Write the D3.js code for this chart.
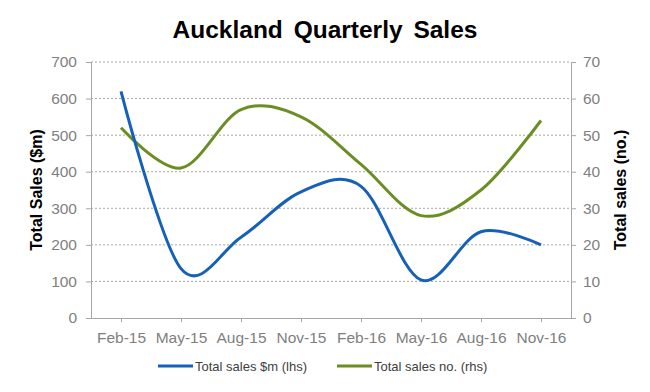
<!DOCTYPE html>
<html>
<head>
<meta charset="utf-8">
<script src="https://cdn.jsdelivr.net/npm/d3@7"></script>
<style>
  body { margin: 0; background: #fff; }
  text { font-family: "Liberation Sans", Arial, sans-serif; }
</style>
</head>
<body>
<div id="chart"></div>
<script>
// chart data
var quarters = ["Feb-15", "May-15", "Aug-15", "Nov-15", "Feb-16", "May-16", "Aug-16", "Nov-16"];
var salesValue = [620, 135, 221, 345, 360, 104, 236, 200];   // $m, left axis
var salesCount = [52, 41, 57, 55, 42, 28, 35, 54];            // no., right axis
var leftTicks = [0, 100, 200, 300, 400, 500, 600, 700];
var rightTicks = [0, 10, 20, 30, 40, 50, 60, 70];

// sizes
var margin = {top: 62, bottom: 74, left: 91, right: 79},
  width = 650 - margin.left - margin.right,
  height = 392 - margin.top - margin.bottom;

var svg = d3.select("#chart")
  .append("svg")
    .attr("width", 650)
    .attr("height", 392);

var chart = svg.append("g")
  .attr("transform", "translate(" + margin.left + "," + margin.top + ")");

// title
svg.append("text")
  .attr("x", 325)
  .attr("y", 38)
  .attr("text-anchor", "middle")
  .style("font-size", "24.5px")
  .style("font-weight", "bold")
  .style("word-spacing", "4px")
  .text("Auckland Quarterly Sales");

// scales
var x = d3.scalePoint()
  .domain(quarters)
  .range([0, width])
  .padding(0.5);

var yLeft = d3.scaleLinear().domain([0, 700]).range([height, 0]);
var yRight = d3.scaleLinear().domain([0, 70]).range([height, 0]);

// grid lines
chart.selectAll(".grid")
  .data(leftTicks.slice(1))
  .enter().append("line")
    .attr("class", "grid")
    .attr("x1", 0)
    .attr("x2", width)
    .attr("y1", function(d) { return yLeft(d); })
    .attr("y2", function(d) { return yLeft(d); })
    .style("stroke", "#a6a6a6")
    .style("stroke-width", 1)
    .style("stroke-dasharray", "2,2");

// axes
var axisColor = "#a6a6a6";
var labelColor = "#7f7f7f";

var leftAxis = chart.append("g")
  .call(d3.axisLeft(yLeft).tickValues(leftTicks).tickSize(5).tickPadding(9));

var rightAxis = chart.append("g")
  .attr("transform", "translate(" + width + ",0)")
  .call(d3.axisRight(yRight).tickValues(rightTicks).tickSize(5).tickPadding(7));

var bottomAxis = chart.append("g")
  .attr("transform", "translate(0," + height + ")")
  .call(d3.axisBottom(x).tickSize(4).tickPadding(10).tickSizeOuter(0));

[leftAxis, rightAxis, bottomAxis].forEach(function(a) {
  a.select(".domain").style("stroke", axisColor);
  a.selectAll(".tick line").style("stroke", axisColor);
  a.selectAll(".tick text")
    .style("fill", labelColor)
    .style("font-size", "15.5px")
    .style("font-family", "Liberation Sans, Arial, sans-serif");
});

// axis titles
svg.append("text")
  .attr("transform", "translate(42," + (margin.top + height / 2) + ") rotate(-90)")
  .attr("text-anchor", "middle")
  .style("font-size", "16px")
  .style("font-weight", "bold")
  .text("Total Sales ($m)");

svg.append("text")
  .attr("transform", "translate(626," + (margin.top + height / 2) + ") rotate(-90)")
  .attr("text-anchor", "middle")
  .style("font-size", "16px")
  .style("font-weight", "bold")
  .text("Total sales (no.)");

// lines
var blue = "#1660b8";
var green = "#6b8e23";

var lineLeft = d3.line()
  .x(function(d, i) { return x(quarters[i]); })
  .y(function(d) { return yLeft(d); })
  .curve(d3.curveCardinal.tension(0));

var lineRight = d3.line()
  .x(function(d, i) { return x(quarters[i]); })
  .y(function(d) { return yRight(d); })
  .curve(d3.curveCardinal.tension(0));

chart.append("path")
  .datum(salesCount)
  .attr("d", lineRight)
  .style("fill", "none")
  .style("stroke", green)
  .style("stroke-width", 3);

chart.append("path")
  .datum(salesValue)
  .attr("d", lineLeft)
  .style("fill", "none")
  .style("stroke", blue)
  .style("stroke-width", 3);

// legend
var legend = [
  {name: "Total sales $m (lhs)", color: blue, x: 158},
  {name: "Total sales no. (rhs)", color: green, x: 337}
];

var items = svg.selectAll(".legend")
  .data(legend)
  .enter().append("g")
    .attr("class", "legend")
    .attr("transform", function(d) { return "translate(" + d.x + ",366)"; });

items.append("line")
  .attr("x1", 0)
  .attr("x2", 35)
  .style("stroke", function(d) { return d.color; })
  .style("stroke-width", 3);

items.append("text")
  .attr("x", 37)
  .attr("y", 4.5)
  .style("font-size", "13px")
  .style("fill", "#404040")
  .text(function(d) { return d.name; });
</script>
</body>
</html>
